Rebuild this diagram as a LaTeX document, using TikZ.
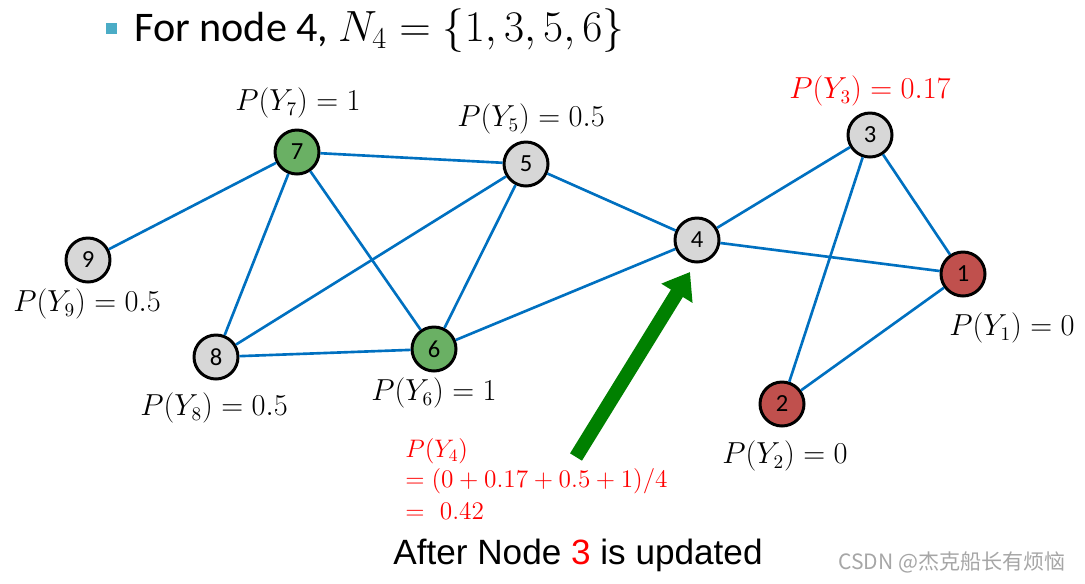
\documentclass[tikz,border=0pt]{standalone}
\usepackage{fontspec}
\usepackage{amsmath}
\setsansfont{Liberation Sans}
\newfontfamily\calibri{Carlito}
\newfontfamily\cjk{Noto Sans CJK SC}
\usetikzlibrary{arrows.meta}
\definecolor{edgeblue}{RGB}{0,112,192}
\definecolor{nodegray}{RGB}{215,215,215}
\definecolor{nodegreen}{RGB}{106,176,100}
\definecolor{nodered}{RGB}{192,80,77}
\definecolor{bulletblue}{RGB}{75,172,198}
\definecolor{arrowgreen}{RGB}{0,128,0}
\tikzset{%
   dn/.style={
      draw=black,
      line width=1.7pt,
      circle,
      minimum size=0.88cm,
      inner sep=0pt,
      font=\calibri\fontsize{14}{16}\selectfont
   },
   gn/.style={dn, fill=nodegray},
   grn/.style={dn, fill=nodegreen},
   rn/.style={dn, fill=nodered},
   e/.style={
      draw=edgeblue,
      line width=1.5pt
   },
   lab/.style={
      inner sep=0pt,
      font=\fontsize{16}{19}\selectfont
   },
   calc/.style={
      inner sep=0pt,
      anchor=west,
      text=red,
      font=\fontsize{14.5}{17}\selectfont
   },
}

\begin{document}
\begin{tikzpicture}[x=0.02cm, y=-0.02cm]
   \useasboundingbox (0,0) rectangle (1085,583);
   % title
   \node[fill=bulletblue, minimum size=0.22cm, inner sep=0pt] (bul) at (111,28) {};
   \node[anchor=west, inner sep=0pt, font=\calibri\fontsize{24}{28}\selectfont] (title) at (134,31) {For node 4, $N_4=\{1,3,5,6\}$};
   % nodes
   \node[grn] (n7) at (297,152) {7};
   \node[gn] (n5) at (526,164) {5};
   \node[gn] (n9) at (88,260) {9};
   \node[gn] (n8) at (216,357) {8};
   \node[grn] (n6) at (434,349) {6};
   \node[gn] (n4) at (697,240) {4};
   \node[gn] (n3) at (870,135) {3};
   \node[rn] (n1) at (963,274) {1};
   \node[rn] (n2) at (782,404) {2};
   % edges
   \path[e] (n9) edge (n7);
   \path[e] (n7) edge (n5);
   \path[e] (n7) edge (n8);
   \path[e] (n7) edge (n6);
   \path[e] (n5) edge (n8);
   \path[e] (n5) edge (n6);
   \path[e] (n5) edge (n4);
   \path[e] (n8) edge (n6);
   \path[e] (n6) edge (n4);
   \path[e] (n4) edge (n3);
   \path[e] (n4) edge (n1);
   \path[e] (n3) edge (n1);
   \path[e] (n3) edge (n2);
   \path[e] (n2) edge (n1);
   % labels
   \node[lab] (l7) at (298,103) {$P(Y_7)=1$};
   \node[lab] (l5) at (531,119) {$P(Y_5)=0.5$};
   \node[lab, text=red] (l3) at (870,91) {$P(Y_3)=0.17$};
   \node[lab] (l9) at (87,304) {$P(Y_9)=0.5$};
   \node[lab] (l8) at (214,408) {$P(Y_8)=0.5$};
   \node[lab] (l6) at (434,393) {$P(Y_6)=1$};
   \node[lab] (l1) at (1012,328) {$P(Y_1)=0$};
   \node[lab] (l2) at (785,456) {$P(Y_2)=0$};
   % update of node 4
   \node[calc] (c0) at (405,451) {$P(Y_4)$};
   \node[calc] (c1) at (405,481) {$=(0+0.17+0.5+1)/4$};
   \node[calc] (c2) at (405,511) {$=\ 0.42$};
   \coordinate (a0) at (576,457);
   \coordinate (a1) at (690,272);
   \draw[arrowgreen, line width=0.28cm, -{Triangle[length=0.5cm, width=0.7cm]}] (a0) -- (a1);
   \node[inner sep=0pt, font=\sffamily\fontsize{20}{24}\selectfont] (cap) at (578,555) {After Node \textcolor{red}{3} is updated};
   \node[inner sep=0pt, text=gray!70, font=\cjk\fontsize{12}{14}\selectfont] (wm) at (952,562) {CSDN @杰克船长有烦恼};
\end{tikzpicture}
\end{document}
